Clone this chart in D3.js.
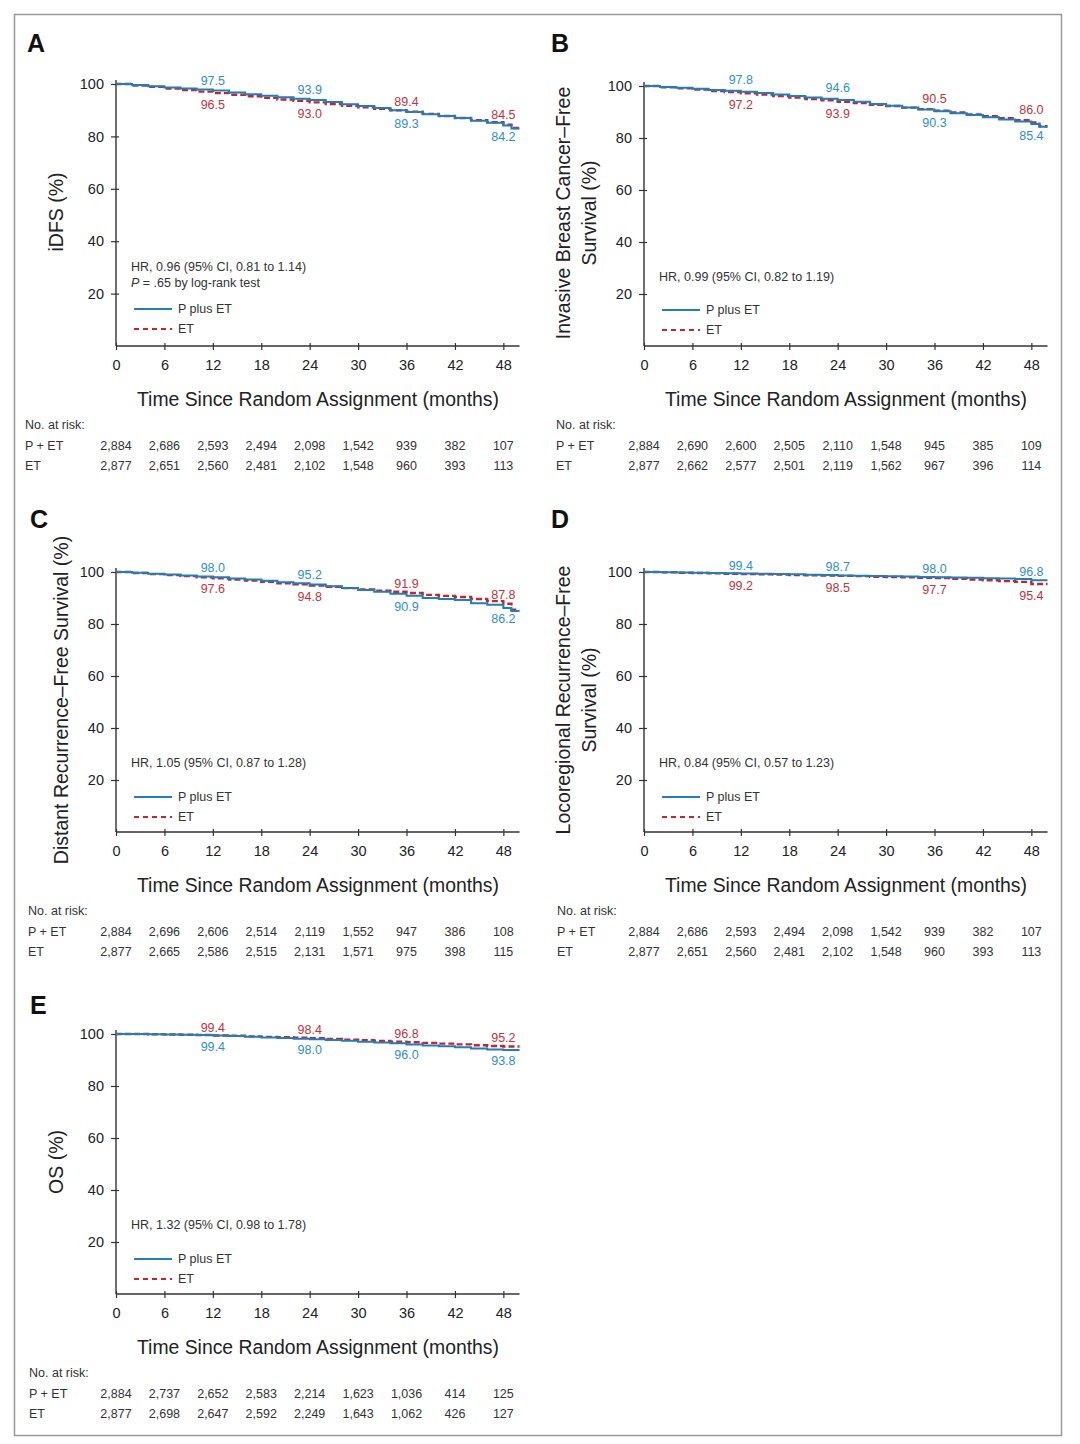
<!DOCTYPE html>
<html><head><meta charset="utf-8">
<script src="https://cdn.jsdelivr.net/npm/d3@7"></script>
<style>body{margin:0;background:#fff}svg{display:block}text{font-family:"Liberation Sans",Arial,sans-serif}</style>
</head><body>
<script>
// ---- data ----
const months = [0,2,4,6,8,10,12,14,16,18,20,22,24,26,28,30,32,34,36,38,40,42,44,46,48,49,50];
const riskTimes = [0,6,12,18,24,30,36,42,48];
const labelMonths = [12,24,36,48];

const A_pet = [100,99.6,99.1,98.7,98.3,97.9,97.5,96.8,96.1,95.5,94.9,94.4,93.9,93.1,92.3,91.6,90.8,90.0,89.3,88.5,87.8,87.0,86.0,85.2,84.2,83.0,83.0];
const A_et  = [100,99.4,98.9,98.3,97.7,97.1,96.5,95.9,95.3,94.7,94.1,93.6,93.0,92.3,91.7,91.1,90.5,90.0,89.4,88.6,87.8,87.0,86.2,85.4,84.5,83.2,83.2];
const B_pet = [100,99.6,99.3,98.9,98.5,98.2,97.8,97.3,96.7,96.2,95.6,95.1,94.6,93.9,93.1,92.4,91.7,91.0,90.3,89.5,88.8,88.0,87.1,86.3,85.4,84.3,84.3];
const B_et  = [100,99.5,99.1,98.6,98.1,97.7,97.2,96.7,96.1,95.6,95.0,94.5,93.9,93.4,92.8,92.3,91.7,91.1,90.5,89.8,89.1,88.4,87.6,86.8,86.0,84.5,84.5];
const C_pet = [100,99.7,99.3,99.0,98.7,98.3,98.0,97.5,97.1,96.6,96.1,95.7,95.2,94.5,93.8,93.1,92.4,91.6,90.9,90.0,89.6,89.2,88.0,87.4,86.2,85.0,85.0];
const C_et  = [100,99.6,99.2,98.8,98.4,98.0,97.6,97.1,96.7,96.2,95.7,95.3,94.8,94.3,93.8,93.3,92.8,92.4,91.9,91.2,90.8,90.4,89.6,88.8,87.8,85.5,85.5];
const D_pet = [100,99.9,99.8,99.7,99.6,99.5,99.4,99.3,99.2,99.1,98.9,98.8,98.7,98.6,98.5,98.4,98.3,98.1,98.0,97.9,97.8,97.6,97.5,97.3,96.8,96.8,96.8];
const D_et  = [100,99.9,99.7,99.6,99.5,99.3,99.2,99.1,99.0,98.8,98.7,98.6,98.5,98.4,98.2,98.1,98.0,97.8,97.7,97.4,97.1,96.8,96.5,96.2,95.4,95.4,95.4];
const E_pet = [100,100,99.9,99.8,99.7,99.6,99.4,99.2,98.9,98.7,98.5,98.2,98.0,97.7,97.4,97.0,96.7,96.4,96.0,95.6,95.3,94.9,94.4,94.0,93.8,93.8,93.8];
const E_et  = [100,100,99.9,99.8,99.7,99.6,99.4,99.3,99.1,98.9,98.8,98.6,98.4,98.1,97.8,97.6,97.3,97.0,96.8,96.6,96.3,96.0,95.7,95.4,95.2,95.2,95.2];

const A_lab_pet = [97.5,93.9,89.3,84.2], A_lab_et = [96.5,93.0,89.4,84.5], A_petAbove = [true,true,false,false];
const B_lab_pet = [97.8,94.6,90.3,85.4], B_lab_et = [97.2,93.9,90.5,86.0], B_petAbove = [true,true,false,false];
const C_lab_pet = [98.0,95.2,90.9,86.2], C_lab_et = [97.6,94.8,91.9,87.8], C_petAbove = [true,true,false,false];
const D_lab_pet = [99.4,98.7,98.0,96.8], D_lab_et = [99.2,98.5,97.7,95.4], D_petAbove = [true,true,true,true];
const E_lab_pet = [99.4,98.0,96.0,93.8], E_lab_et = [99.4,98.4,96.8,95.2], E_petAbove = [false,false,false,false];

const A_risk_pet = [2884,2686,2593,2494,2098,1542,939,382,107], A_risk_et = [2877,2651,2560,2481,2102,1548,960,393,113];
const B_risk_pet = [2884,2690,2600,2505,2110,1548,945,385,109], B_risk_et = [2877,2662,2577,2501,2119,1562,967,396,114];
const C_risk_pet = [2884,2696,2606,2514,2119,1552,947,386,108], C_risk_et = [2877,2665,2586,2515,2131,1571,975,398,115];
const D_risk_pet = [2884,2686,2593,2494,2098,1542,939,382,107], D_risk_et = [2877,2651,2560,2481,2102,1548,960,393,113];
const E_risk_pet = [2884,2737,2652,2583,2214,1623,1036,414,125], E_risk_et = [2877,2698,2647,2592,2249,1643,1062,426,127];

const yTicks = [20,40,60,80,100];
const xTicks = [0,6,12,18,24,30,36,42,48];
const seriesNames = ["P plus ET","ET"];
const riskRowNames = ["P + ET","ET"];

// ---- layout / style config ----
const BLUE = "#1f7fb8", RED = "#c4262e", BLUE_T = "#2f8fc8", RED_T = "#c0343c";
const panels = [
  {letter:"A", lx:27, ly:52, x0:116, top:84, bottom:346, ytitle:["iDFS (%)"], ytx:[63], yc:212,
   hr:["HR, 0.96 (95%  CI, 0.81 to 1.14)"], pline:true, hry:271, legy:309,
   pet:A_pet, et:A_et, lp:A_lab_pet, le:A_lab_et, pa:A_petAbove, off:[-6,16], rp:A_risk_pet, re:A_risk_et, rx:25},
  {letter:"B", lx:551, ly:52, x0:644, top:86, bottom:346, ytitle:["Invasive Breast Cancer\u2013Free","Survival (%)"], ytx:[570,596], yc:213,
   hr:["HR, 0.99 (95% CI, 0.82 to 1.19)"], pline:false, hry:281, legy:310,
   pet:B_pet, et:B_et, lp:B_lab_pet, le:B_lab_et, pa:B_petAbove, off:[-8,16], rp:B_risk_pet, re:B_risk_et, rx:556},
  {letter:"C", lx:30, ly:528, x0:116, top:572, bottom:832, ytitle:["Distant Recurrence\u2013Free Survival (%)"], ytx:[68], yc:700,
   hr:["HR, 1.05 (95% CI, 0.87 to 1.28)"], pline:false, hry:767, legy:797,
   pet:C_pet, et:C_et, lp:C_lab_pet, le:C_lab_et, pa:C_petAbove, off:[-5,15], rp:C_risk_pet, re:C_risk_et, rx:28},
  {letter:"D", lx:551, ly:528, x0:644, top:572, bottom:832, ytitle:["Locoregional Recurrence\u2013Free","Survival (%)"], ytx:[570,596], yc:700,
   hr:["HR, 0.84 (95% CI, 0.57 to 1.23)"], pline:false, hry:767, legy:797,
   pet:D_pet, et:D_et, lp:D_lab_pet, le:D_lab_et, pa:D_petAbove, off:[-4,16], rp:D_risk_pet, re:D_risk_et, rx:557},
  {letter:"E", lx:30, ly:1014, x0:116, top:1034, bottom:1294, ytitle:["OS (%)"], ytx:[63], yc:1162,
   hr:["HR, 1.32 (95% CI, 0.98 to 1.78)"], pline:false, hry:1229, legy:1259,
   pet:E_pet, et:E_et, lp:E_lab_pet, le:E_lab_et, pa:E_petAbove, off:[-4,15], rp:E_risk_pet, re:E_risk_et, rx:29}
];

const svg = d3.select("body").append("svg").attr("width",1080).attr("height",1444);
svg.append("rect").attr("width",1080).attr("height",1444).attr("fill","#fff");
svg.append("rect").attr("x",14.5).attr("y",14.5).attr("width",1047).attr("height",1421)
  .attr("fill","none").attr("stroke","#9a9a9a").attr("stroke-width",1.5);

const fmt = d3.format(",");

panels.forEach(p => {
  const g = svg.append("g");
  const x = d3.scaleLinear().domain([0,50]).range([p.x0, p.x0 + 50*8.07]);
  const y = d3.scaleLinear().domain([0,100]).range([p.bottom, p.top]);

  g.append("text").attr("x",p.lx).attr("y",p.ly).attr("font-size",25).attr("font-weight","bold").style("fill","#111").text(p.letter);

  // axes
  const yAxis = d3.axisLeft(y).tickValues(yTicks).tickSize(5).tickPadding(7);
  const ya = g.append("g").attr("transform",`translate(${p.x0},0)`).call(yAxis);
  ya.select(".domain").attr("d",`M0,${p.bottom}V${p.top-4}`).attr("stroke","#333").attr("stroke-width",1.4);
  ya.selectAll(".tick line").attr("x1",3).attr("x2",-5).attr("stroke","#333").attr("stroke-width",1.2);
  ya.selectAll(".tick text").attr("font-size",14.5).attr("font-family","Liberation Sans, Arial, sans-serif").style("fill","#222");

  const xAxis = d3.axisBottom(x).tickValues(xTicks).tickSize(5).tickPadding(9);
  const xa = g.append("g").attr("transform",`translate(0,${p.bottom})`).call(xAxis);
  xa.select(".domain").attr("d",`M${x(0)},0H${x(50)}`).attr("stroke","#333").attr("stroke-width",1.4);
  xa.selectAll(".tick line").attr("y1",-3).attr("y2",4).attr("stroke","#333").attr("stroke-width",1.2);
  xa.selectAll(".tick text").attr("font-size",14.5).attr("font-family","Liberation Sans, Arial, sans-serif").style("fill","#222");

  g.append("text").attr("x",p.x0+202).attr("y",p.bottom+60).attr("text-anchor","middle")
    .attr("font-size",20).attr("textLength",362).attr("lengthAdjust","spacingAndGlyphs").style("fill","#222")
    .text("Time Since Random Assignment (months)");

  // y title
  p.ytitle.forEach((t,i) => {
    g.append("text").attr("transform",`translate(${p.ytx[i]},${p.yc}) rotate(-90)`)
      .attr("text-anchor","middle").attr("font-size",19.5).style("fill","#222").text(t);
  });

  // curves
  const line = d3.line().x((d,i)=>x(months[i])).y(d=>y(d)).curve(d3.curveStepAfter);
  g.append("path").datum(p.et).attr("d",line).attr("fill","none").attr("stroke",RED).attr("stroke-width",2.4).attr("stroke-dasharray","6,3");
  g.append("path").datum(p.pet).attr("d",line).attr("fill","none").attr("stroke",BLUE).attr("stroke-width",2);

  // value labels
  labelMonths.forEach((m,i) => {
    const pa = p.pa[i];
    g.append("text").attr("x",x(m)).attr("y",y(p.lp[i]) + (pa?p.off[0]:p.off[1])).attr("text-anchor","middle")
      .attr("font-size",12.5).style("fill",BLUE_T).text(p.lp[i].toFixed(1));
    g.append("text").attr("x",x(m)).attr("y",y(p.le[i]) + (pa?p.off[1]:p.off[0])).attr("text-anchor","middle")
      .attr("font-size",12.5).style("fill",RED_T).text(p.le[i].toFixed(1));
  });

  // HR text
  const hx = p.x0 + 15;
  p.hr.forEach((t,i)=> g.append("text").attr("x",hx).attr("y",p.hry + i*16).attr("font-size",12.5).style("fill","#333").text(t));
  if (p.pline) {
    const t = g.append("text").attr("x",hx).attr("y",p.hry+16).attr("font-size",12.5).style("fill","#333");
    t.append("tspan").attr("font-style","italic").text("P");
    t.append("tspan").text(" = .65 by log-rank test");
  }

  // legend
  const lx = p.x0 + 18;
  g.append("line").attr("x1",lx).attr("x2",lx+38).attr("y1",p.legy).attr("y2",p.legy).attr("stroke",BLUE).attr("stroke-width",2);
  g.append("line").attr("x1",lx).attr("x2",lx+38).attr("y1",p.legy+20).attr("y2",p.legy+20).attr("stroke",RED).attr("stroke-width",2).attr("stroke-dasharray","5,4");
  [0,1].forEach(i => g.append("text").attr("x",lx+44).attr("y",p.legy+4+i*20).attr("font-size",12.5).style("fill","#333").text(seriesNames[i]));

  // risk table
  g.append("text").attr("x",p.rx).attr("y",p.bottom+83).attr("font-size",12.5).style("fill","#333").text("No. at risk:");
  [p.rp,p.re].forEach((arr,r) => {
    const ry = p.bottom + 104 + r*20;
    g.append("text").attr("x",p.rx).attr("y",ry).attr("font-size",12.5).style("fill","#333").text(riskRowNames[r]);
    arr.forEach((v,i)=> g.append("text").attr("x",x(riskTimes[i])).attr("y",ry).attr("text-anchor","middle")
      .attr("font-size",12.5).style("fill","#333").text(fmt(v)));
  });
});
</script>
</body></html>
